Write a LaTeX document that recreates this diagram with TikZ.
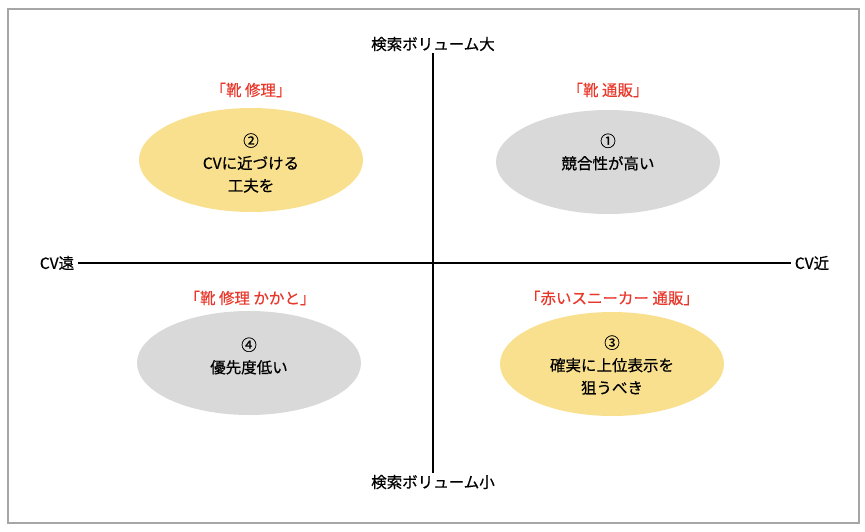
\documentclass[tikz,border=0pt]{standalone}
\usepackage{fontspec}
\setmainfont{Noto Sans CJK JP}[UprightFeatures={FakeBold=0.6}]
\usetikzlibrary{shapes.geometric}
\definecolor{framegray}{HTML}{A6A6A6}
\definecolor{blobgray}{HTML}{D9D9D9}
\definecolor{blobyellow}{HTML}{F9E08F}
\definecolor{kwred}{HTML}{E8382B}

\begin{document}
\begin{tikzpicture}[x=1pt, y=-1pt, every node/.style={font=\fontsize{15.5}{22.5}\selectfont},
	blob/.style={ellipse, minimum width=224pt, minimum height=104pt, inner sep=0pt},
	keyword/.style={text=kwred},
	memo/.style={align=center}]
	\useasboundingbox (0,0) rectangle (865,531);
	% outer frame
	\draw[framegray, line width=1.5pt] (8,9) rectangle (859,523);
	% the four quadrant blobs
	\node[blob, fill=blobyellow] (e2) at (251,160) {};
	\node[blob, fill=blobgray] (e1) at (608,162) {};
	\node[blob, fill=blobgray] (e4) at (249,363) {};
	\node[blob, fill=blobyellow] (e3) at (612,364) {};
	% axis labels and axes
	\node[inner sep=2pt] (vtop) at (433,44) {検索ボリューム大};
	\node[inner sep=2pt] (vbot) at (433,482) {検索ボリューム小};
	\node[inner sep=2pt] (hfar) at (57,263) {CV遠};
	\node[inner sep=2pt] (hnear) at (812,263) {CV近};
	\draw[line width=2pt] (vtop.south) -- (vbot.north);
	\draw[line width=2pt, shorten <=2pt, shorten >=2pt] (hfar.east) -- (hnear.west);
	% search keywords
	\node[keyword] (k2) at (251,90) {「靴 修理」};
	\node[keyword] (k1) at (608,90) {「靴 通販」};
	\node[keyword] (k4) at (250,298) {「靴 修理 かかと」};
	\node[keyword] (k3) at (612,298) {「赤いスニーカー 通販」};
	% notes inside the blobs
	\node[memo] (m2) at (251,163) {②\\CVに近づける\\工夫を};
	\node[memo] (m1) at (608,152) {①\\競合性が高い};
	\node[memo] (m4) at (249,356) {④\\優先度低い};
	\node[memo] (m3) at (612,365) {③\\確実に上位表示を\\狙うべき};
\end{tikzpicture}
\end{document}
